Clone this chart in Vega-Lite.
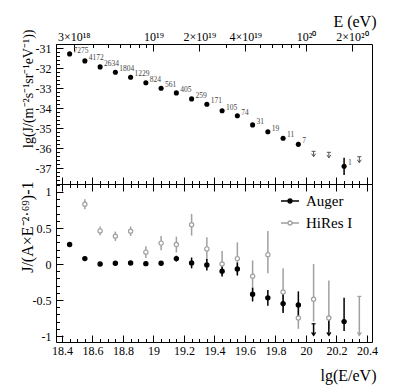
{
  "$schema": "https://vega.github.io/schema/vega-lite/v6.json",
  "background": "white",
  "padding": {"left": 18, "top": 12, "right": 5, "bottom": 5},
  "bounds": "flush",
  "spacing": 0,
  "resolve": {"scale": {"color": "independent", "fill": "independent", "stroke": "independent"}, "legend": {"color": "independent", "fill": "independent", "stroke": "independent"}},
  "config": {
    "font": "Liberation Serif",
    "view": {"stroke": "black", "strokeWidth": 1},
    "axis": {"domain": false, "grid": false, "tickColor": "black", "tickWidth": 1, "labelFont": "Liberation Serif", "labelFontSize": 12, "labelColor": "black", "titleFont": "Liberation Serif", "titleFontSize": 15, "titleFontWeight": "normal", "titleColor": "black"}
  },
  "datasets": {
    "spec": [
      {"lg": 18.45, "y": -31.28, "n": "7275"},
      {"lg": 18.55, "y": -31.63, "n": "4172"},
      {"lg": 18.65, "y": -31.93, "n": "2634"},
      {"lg": 18.75, "y": -32.2, "n": "1804"},
      {"lg": 18.85, "y": -32.45, "n": "1229"},
      {"lg": 18.95, "y": -32.72, "n": "824"},
      {"lg": 19.05, "y": -33.0, "n": "561"},
      {"lg": 19.15, "y": -33.23, "n": "405"},
      {"lg": 19.25, "y": -33.53, "n": "259"},
      {"lg": 19.35, "y": -33.8, "n": "171"},
      {"lg": 19.45, "y": -34.12, "n": "105"},
      {"lg": 19.55, "y": -34.37, "n": "74"},
      {"lg": 19.65, "y": -34.83, "n": "31"},
      {"lg": 19.75, "y": -35.17, "n": "19"},
      {"lg": 19.85, "y": -35.5, "n": "11"},
      {"lg": 19.95, "y": -35.8, "n": "7", "lo": -35.92, "hi": -35.68},
      {"lg": 20.25, "y": -36.9, "n": "1", "lo": -37.33, "hi": -36.47}
    ],
    "lim": [
      {"lg": 20.05, "top": -36.15, "bot": -36.42},
      {"lg": 20.15, "top": -36.2, "bot": -36.48},
      {"lg": 20.35, "top": -36.42, "bot": -36.72}
    ],
    "dev": [
      {"series": "HiRes I", "lg": 18.55, "v": 0.83, "lo": 0.76, "hi": 0.9},
      {"series": "HiRes I", "lg": 18.65, "v": 0.46, "lo": 0.4, "hi": 0.52},
      {"series": "HiRes I", "lg": 18.75, "v": 0.385, "lo": 0.32, "hi": 0.45},
      {"series": "HiRes I", "lg": 18.85, "v": 0.455, "lo": 0.39, "hi": 0.52},
      {"series": "HiRes I", "lg": 18.95, "v": 0.165, "lo": 0.085, "hi": 0.245},
      {"series": "HiRes I", "lg": 19.05, "v": 0.29, "lo": 0.19, "hi": 0.39},
      {"series": "HiRes I", "lg": 19.15, "v": 0.27, "lo": 0.16, "hi": 0.38},
      {"series": "HiRes I", "lg": 19.25, "v": 0.545, "lo": 0.395, "hi": 0.695},
      {"series": "HiRes I", "lg": 19.35, "v": 0.21, "lo": 0.05, "hi": 0.37},
      {"series": "HiRes I", "lg": 19.45, "v": 0.0, "lo": -0.18, "hi": 0.18},
      {"series": "HiRes I", "lg": 19.55, "v": 0.075, "lo": -0.15, "hi": 0.3},
      {"series": "HiRes I", "lg": 19.65, "v": -0.17, "lo": -0.38, "hi": 0.05},
      {"series": "HiRes I", "lg": 19.75, "v": 0.13, "lo": -0.13, "hi": 0.46},
      {"series": "HiRes I", "lg": 19.85, "v": -0.39, "lo": -0.66, "hi": -0.06},
      {"series": "HiRes I", "lg": 19.95, "v": -0.75, "lo": -0.9, "hi": -0.6},
      {"series": "HiRes I", "lg": 20.05, "v": -0.49, "lo": -0.8, "hi": 0.0},
      {"series": "HiRes I", "lg": 20.15, "v": -0.75, "lo": -0.9, "hi": -0.23},
      {"series": "Auger", "lg": 18.45, "v": 0.27},
      {"series": "Auger", "lg": 18.55, "v": 0.075},
      {"series": "Auger", "lg": 18.65, "v": 0.0},
      {"series": "Auger", "lg": 18.75, "v": 0.01},
      {"series": "Auger", "lg": 18.85, "v": 0.015},
      {"series": "Auger", "lg": 18.95, "v": 0.005},
      {"series": "Auger", "lg": 19.05, "v": 0.01},
      {"series": "Auger", "lg": 19.15, "v": 0.075, "lo": 0.035, "hi": 0.115},
      {"series": "Auger", "lg": 19.25, "v": 0.015, "lo": -0.06, "hi": 0.09},
      {"series": "Auger", "lg": 19.35, "v": -0.015, "lo": -0.09, "hi": 0.07},
      {"series": "Auger", "lg": 19.45, "v": -0.1, "lo": -0.17, "hi": -0.03},
      {"series": "Auger", "lg": 19.55, "v": -0.07, "lo": -0.16, "hi": 0.02},
      {"series": "Auger", "lg": 19.65, "v": -0.42, "lo": -0.52, "hi": -0.33},
      {"series": "Auger", "lg": 19.75, "v": -0.47, "lo": -0.58, "hi": -0.36},
      {"series": "Auger", "lg": 19.85, "v": -0.55, "lo": -0.68, "hi": -0.41},
      {"series": "Auger", "lg": 19.95, "v": -0.57, "lo": -0.76, "hi": -0.38},
      {"series": "Auger", "lg": 20.25, "v": -0.8, "lo": -0.93, "hi": -0.47}
    ],
    "devlim": [
      {"series": "HiRes I", "lg": 20.35, "top": -0.45, "bot": -0.99},
      {"series": "Auger", "lg": 20.05, "top": -0.83, "bot": -0.99},
      {"series": "Auger", "lg": 20.15, "top": -0.74, "bot": -0.99}
    ]
  },
  "vconcat": [
    {
      "width": 316,
      "height": 140,
      "resolve": {"axis": {"x": "independent", "y": "independent"}},
      "layer": [
        {
          "data": {"name": "lim"},
          "mark": {"type": "rule", "color": "#555", "strokeWidth": 1},
          "encoding": {
            "x": {"field": "lg", "type": "quantitative", "scale": {"domain": [18.3607, 20.433], "nice": false, "zero": false},
                  "axis": {"orient": "bottom", "values": [18.4, 18.6, 18.8, 19, 19.2, 19.4, 19.6, 19.8, 20, 20.2, 20.4], "tickSize": -7, "labels": false, "title": null}},
            "y": {"field": "top", "type": "quantitative", "scale": {"domain": [-37.785, -30.785], "nice": false, "zero": false},
                  "axis": {"orient": "left", "values": [-37, -36, -35, -34, -33, -32, -31], "tickSize": -7, "labelPadding": 12, "labelExpr": "'' + datum.value",
                           "title": "lg(J/(m⁻²s⁻¹sr⁻¹eV⁻¹))", "titleFontSize": 14, "titleAngle": 270, "titleAlign": "right", "titleBaseline": "alphabetic", "titleX": -24, "titleY": -15}},
            "y2": {"field": "bot"}
          }
        },
        {
          "data": {"name": "lim"},
          "mark": {"type": "point", "shape": "M-0.8,-1.2L0,0L0.8,-1.2", "size": 25, "filled": false, "color": "#555", "strokeWidth": 1, "opacity": 1},
          "encoding": {
            "x": {"field": "lg", "type": "quantitative",
                  "axis": {"orient": "bottom", "values": [18.4, 18.45, 18.5, 18.55, 18.6, 18.65, 18.7, 18.75, 18.8, 18.85, 18.9, 18.95, 19, 19.05, 19.1, 19.15, 19.2, 19.25, 19.3, 19.35, 19.4, 19.45, 19.5, 19.55, 19.6, 19.65, 19.7, 19.75, 19.8, 19.85, 19.9, 19.95, 20, 20.05, 20.1, 20.15, 20.2, 20.25, 20.3, 20.35, 20.4], "tickSize": -3.5, "labels": false, "title": null}},
            "y": {"field": "bot", "type": "quantitative",
                  "axis": {"orient": "left", "values": [-37.6, -37.4, -37.2, -37.0, -36.8, -36.6, -36.4, -36.2, -36.0, -35.8, -35.6, -35.4, -35.2, -35.0, -34.8, -34.6, -34.4, -34.2, -34.0, -33.8, -33.6, -33.4, -33.2, -33.0, -32.8, -32.6, -32.4, -32.2, -32.0, -31.8, -31.6, -31.4, -31.2, -31.0, -30.8], "tickSize": -3.5, "labels": false, "title": null}}
          }
        },
        {
          "data": {"name": "lim"},
          "mark": {"type": "point", "shape": "M-1,0H1", "size": 16, "filled": false, "color": "#555", "strokeWidth": 1, "opacity": 1},
          "encoding": {
            "x": {"field": "lg", "type": "quantitative",
                  "axis": {"orient": "top", "values": [18.4771, 19, 19.301, 19.602, 20, 20.301], "tickSize": -7, "labelPadding": 8,
                           "labelExpr": "datum.value < 18.7 ? '3×10¹⁸' : datum.value < 19.1 ? '10¹⁹' : datum.value < 19.4 ? '2×10¹⁹' : datum.value < 19.7 ? '4×10¹⁹' : datum.value < 20.1 ? '10²⁰' : '2×10²⁰'",
                           "title": "E (eV)", "titleFontSize": 16, "titleAlign": "right", "titleBaseline": "alphabetic", "titleX": 320, "titleY": -18}},
            "y": {"field": "top", "type": "quantitative", "axis": null}
          }
        },
        {
          "data": {"name": "spec"},
          "transform": [{"filter": "isValid(datum.lo)"}],
          "mark": {"type": "rule", "color": "black", "strokeWidth": 1.5},
          "encoding": {
            "x": {"field": "lg", "type": "quantitative",
                  "axis": {"orient": "top", "values": [18.602, 18.699, 18.778, 18.845, 18.903, 18.954, 19.477, 19.699, 19.778, 19.845, 19.903, 19.954], "tickSize": -3.5, "labels": false, "title": null}},
            "y": {"field": "lo", "type": "quantitative", "axis": null},
            "y2": {"field": "hi"}
          }
        },
        {
          "data": {"name": "spec"},
          "mark": {"type": "point", "shape": "circle", "size": 26, "filled": true, "color": "black", "opacity": 1},
          "encoding": {
            "x": {"field": "lg", "type": "quantitative", "axis": null},
            "y": {"field": "y", "type": "quantitative", "axis": null}
          }
        },
        {
          "data": {"name": "spec"},
          "mark": {"type": "text", "align": "left", "baseline": "alphabetic", "dx": 4, "dy": -1, "fontSize": 7.5, "color": "#444", "font": "Liberation Serif"},
          "encoding": {
            "x": {"field": "lg", "type": "quantitative", "axis": null},
            "y": {"field": "y", "type": "quantitative", "axis": null},
            "text": {"field": "n"}
          }
        }
      ]
    },
    {
      "width": 316,
      "height": 158,
      "resolve": {"axis": {"x": "independent", "y": "independent"}},
      "layer": [
        {
          "mark": {"type": "rule", "color": "#777", "strokeWidth": 1, "strokeDash": [6, 2, 1, 2]},
          "encoding": {
            "y": {"datum": 0, "type": "quantitative", "scale": {"domain": [-1.083, 1.111], "nice": false, "zero": false},
                  "axis": {"orient": "left", "values": [-1, -0.5, 0, 0.5, 1], "tickSize": -7, "labelPadding": 12, "labelExpr": "'' + datum.value",
                           "title": "J/(A×E⁻²·⁶⁹)-1", "titleFontSize": 16, "titleAngle": 270, "titleAlign": "right", "titleBaseline": "alphabetic", "titleX": -24, "titleY": -3}}
          }
        },
        {
          "data": {"name": "dev"},
          "transform": [{"filter": "isValid(datum.lo)"}],
          "mark": {"type": "rule", "strokeWidth": 1.5},
          "encoding": {
            "x": {"field": "lg", "type": "quantitative", "scale": {"domain": [18.3607, 20.433], "nice": false, "zero": false},
                  "axis": {"orient": "bottom", "values": [18.4, 18.6, 18.8, 19, 19.2, 19.4, 19.6, 19.8, 20, 20.2, 20.4], "tickSize": -7, "labelPadding": 10, "labelExpr": "'' + datum.value",
                           "title": "lg(E/eV)", "titleFontSize": 16, "titleAlign": "right", "titleBaseline": "alphabetic", "titleX": 320, "titleY": 38}},
            "y": {"field": "lo", "type": "quantitative",
                  "axis": {"orient": "left", "values": [-1.0, -0.9, -0.8, -0.7, -0.6, -0.5, -0.4, -0.3, -0.2, -0.1, 0, 0.1, 0.2, 0.3, 0.4, 0.5, 0.6, 0.7, 0.8, 0.9, 1.0, 1.1], "tickSize": -3.5, "labels": false, "title": null}},
            "y2": {"field": "hi"},
            "stroke": {"field": "series", "type": "nominal"}
          }
        },
        {
          "data": {"name": "devlim"},
          "mark": {"type": "rule", "strokeWidth": 1.5},
          "encoding": {
            "x": {"field": "lg", "type": "quantitative",
                  "axis": {"orient": "bottom", "values": [18.4, 18.45, 18.5, 18.55, 18.6, 18.65, 18.7, 18.75, 18.8, 18.85, 18.9, 18.95, 19, 19.05, 19.1, 19.15, 19.2, 19.25, 19.3, 19.35, 19.4, 19.45, 19.5, 19.55, 19.6, 19.65, 19.7, 19.75, 19.8, 19.85, 19.9, 19.95, 20, 20.05, 20.1, 20.15, 20.2, 20.25, 20.3, 20.35, 20.4], "tickSize": -3.5, "labels": false, "title": null}},
            "y": {"field": "top", "type": "quantitative", "axis": null},
            "y2": {"field": "bot"},
            "stroke": {"field": "series", "type": "nominal"}
          }
        },
        {
          "data": {"name": "devlim"},
          "mark": {"type": "point", "shape": "M-0.8,-1.2L0,0L0.8,-1.2", "size": 25, "filled": false, "strokeWidth": 1.2, "opacity": 1},
          "encoding": {
            "x": {"field": "lg", "type": "quantitative",
                  "axis": {"orient": "top", "values": [18.4, 18.6, 18.8, 19, 19.2, 19.4, 19.6, 19.8, 20, 20.2, 20.4], "tickSize": -7, "labels": false, "title": null}},
            "y": {"field": "bot", "type": "quantitative", "axis": null},
            "stroke": {"field": "series", "type": "nominal"}
          }
        },
        {
          "data": {"name": "devlim"},
          "mark": {"type": "point", "shape": "M-1,0H1", "size": 16, "filled": false, "strokeWidth": 1.2, "opacity": 1},
          "encoding": {
            "x": {"field": "lg", "type": "quantitative",
                  "axis": {"orient": "top", "values": [18.4, 18.45, 18.5, 18.55, 18.6, 18.65, 18.7, 18.75, 18.8, 18.85, 18.9, 18.95, 19, 19.05, 19.1, 19.15, 19.2, 19.25, 19.3, 19.35, 19.4, 19.45, 19.5, 19.55, 19.6, 19.65, 19.7, 19.75, 19.8, 19.85, 19.9, 19.95, 20, 20.05, 20.1, 20.15, 20.2, 20.25, 20.3, 20.35, 20.4], "tickSize": -3.5, "labels": false, "title": null}},
            "y": {"field": "top", "type": "quantitative", "axis": null},
            "stroke": {"field": "series", "type": "nominal"}
          }
        },
        {
          "data": {"name": "dev"},
          "mark": {"type": "point", "shape": "circle", "size": 18, "filled": true, "strokeWidth": 1.2, "opacity": 1},
          "encoding": {
            "x": {"field": "lg", "type": "quantitative", "axis": null},
            "y": {"field": "v", "type": "quantitative", "axis": null},
            "fill": {"field": "series", "type": "nominal", "scale": {"domain": ["Auger", "HiRes I"], "range": ["black", "white"]},
                     "legend": {"orient": "none", "legendX": 224, "legendY": 7, "title": null, "symbolType": "M-1,0H-0.22M0.22,0H1M0.22,0A0.22,0.22,0,1,1,-0.22,0A0.22,0.22,0,1,1,0.22,0Z", "symbolSize": 324, "symbolStrokeWidth": 1.3, "labelFontSize": 15, "labelFont": "Liberation Serif", "labelColor": "black", "labelOffset": 6, "rowPadding": 4}},
            "stroke": {"field": "series", "type": "nominal", "scale": {"domain": ["Auger", "HiRes I"], "range": ["black", "#a0a0a0"]},
                     "legend": {"orient": "none", "legendX": 224, "legendY": 7, "title": null, "symbolType": "M-1,0H-0.22M0.22,0H1M0.22,0A0.22,0.22,0,1,1,-0.22,0A0.22,0.22,0,1,1,0.22,0Z", "symbolSize": 324, "symbolStrokeWidth": 1.3, "labelFontSize": 15, "labelFont": "Liberation Serif", "labelColor": "black", "labelOffset": 6, "rowPadding": 4}}
          }
        }
      ]
    }
  ]
}
